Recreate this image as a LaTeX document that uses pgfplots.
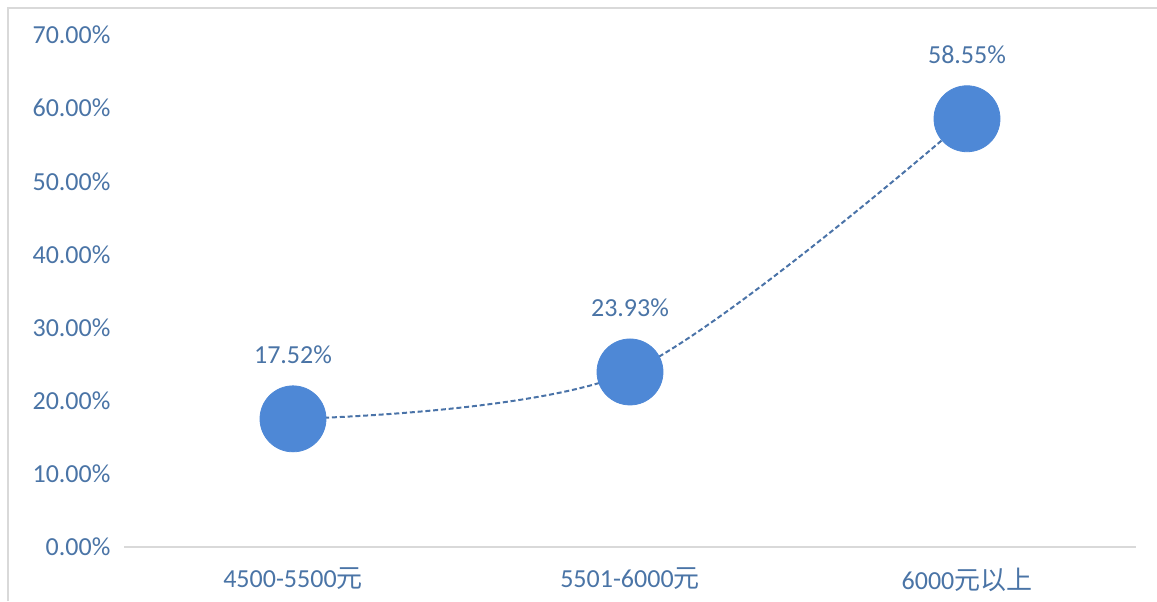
\documentclass[border=0pt]{standalone}
\usepackage{pgfplots}
\pgfplotsset{compat=1.18}
\usepackage{fontspec}
\setmainfont{Carlito}
\newfontfamily\cjk{Noto Sans CJK SC}
\definecolor{txt}{RGB}{74,116,166}
\definecolor{bub}{RGB}{78,136,214}
\definecolor{ln}{RGB}{74,115,168}
\definecolor{frame}{RGB}{217,217,217}
\begin{document}
\begin{tikzpicture}[x=1pt,y=1pt]
\useasboundingbox (-62.25pt,-27pt) rectangle (516.25pt,273.5pt);
\draw[frame,line width=0.8pt] (-58.25pt,-27pt) -- (-58.25pt,269.5pt) -- (516.25pt,269.5pt);
\begin{axis}[
  at={(0pt,0pt)}, anchor=south west,
  scale only axis,
  width=505.5pt, height=256pt,
  xmin=-0.5, xmax=2.5, ymin=0, ymax=70,
  axis lines=left,
  x axis line style={draw=frame,-,line width=0.8pt},
  y axis line style={draw=none},
  major tick length=0pt,
  xtick={0,1,2},
  xticklabels={4500-5500{\cjk 元},5501-6000{\cjk 元},6000{\cjk 元以上}},
  ytick={0,10,20,30,40,50,60,70},
  yticklabels={0.00\%,10.00\%,20.00\%,30.00\%,40.00\%,50.00\%,60.00\%,70.00\%},
  tick label style={font=\fontsize{13pt}{15pt}\selectfont, text=txt},
  xticklabel style={yshift=-7pt},
  yticklabel style={xshift=-3.5pt},
  clip=false,
]
\addplot[ln, line width=1pt, dash pattern=on 2.5pt off 1.4pt, smooth, tension=0.5] coordinates {(0,17.52) (1,23.93) (2,58.55)};
\addplot[only marks, mark=*, mark size=16.5pt, mark options={fill=bub, draw=bub},
  nodes near coords={\pgfmathprintnumber[fixed,fixed zerofill,precision=2]{\pgfplotspointmeta}\%},
  nodes near coords style={font=\fontsize{13pt}{15pt}\selectfont, text=txt, anchor=center, yshift=32pt, /pgf/number format/assume math mode=true},
  point meta=explicit] coordinates {(0,17.52) [17.52] (1,23.93) [23.93] (2,58.55) [58.55]};
\end{axis}
\end{tikzpicture}
\end{document}
